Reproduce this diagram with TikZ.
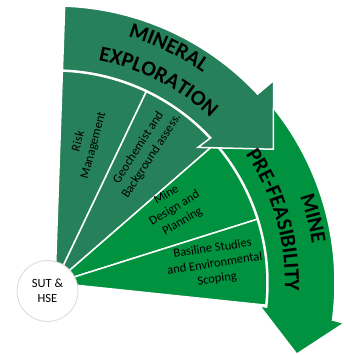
\documentclass[tikz,border=0pt]{standalone}
\usepackage{fontspec}
\setmainfont{Carlito}
\usetikzlibrary{decorations.text}
\definecolor{darkgreen}{RGB}{38,128,90}
\definecolor{brightgreen}{RGB}{0,146,63}
\definecolor{ringgray}{RGB}{217,217,217}
\newcommand{\arcfont}{\fontsize{21.5}{21.5}\selectfont\bfseries}

\begin{document}
\begin{tikzpicture}[x=1pt, y=1pt,
		wedge/.style={draw=white, line width=1.5pt, line join=round},
		band/.style={draw=white, line width=1.5pt, line join=miter},
		seclabel/.style={align=center, inner sep=0pt, font=\fontsize{12.5}{15.5}\selectfont},
		hub/.style={circle, draw=ringgray, line width=0.8pt, fill=white, minimum size=61pt, inner sep=0pt, align=center, font=\fontsize{12.5}{15.5}\selectfont},
		arctext/.style={decorate, decoration={text along path, text={|\arcfont|#1}}},
		]
		
		\useasboundingbox (-55,-72) rectangle (289,283);
		
		\foreach \a/\b/\c in {88/64.5/darkgreen, 64.5/41/darkgreen, 41/17.5/brightgreen, 17.5/-6/brightgreen}
			\draw[wedge, fill=\c] (0,0) -- (\a:212) arc[start angle=\a, end angle=\b, radius=212] -- cycle;
		
		\draw[band, fill=brightgreen] (42:213) arc[start angle=42, end angle=-6.5, radius=213]
			-- (-6.4:206) -- (-16.4:252) -- (-7.9:292) -- (-7.6:280)
			arc[start angle=-7.6, end angle=42, radius=280] -- cycle;
		
		\draw[band, fill=darkgreen] (88:213) arc[start angle=88, end angle=43, radius=213]
			-- (43.5:197) -- (31.5:256) -- (42.8:298) -- (43:277)
			arc[start angle=43, end angle=88, radius=277] -- cycle;
		
		\path[arctext=MINERAL] (73.5:257) arc[start angle=73.5, end angle=20, radius=257];
		\path[arctext=EXPLORATION] (79:227) arc[start angle=79, end angle=20, radius=227];
		\path[arctext=MINE] (19.5:260) arc[start angle=19.5, end angle=-30, radius=260];
		\path[arctext=PRE-FEASIBILITY] (34:230) arc[start angle=34, end angle=-30, radius=230];
		
		\node[seclabel, rotate=75] (risk) at (77.5:143) {Risk\\Management};
		\node[seclabel, rotate=57] (geochem) at (55.5:159) {Geochemist and\\Background assess.};
		\node[seclabel, rotate=31] (design) at (32:141) {Mine\\Design and\\Planning};
		\node[seclabel, rotate=8.5] (baseline) at (6.8:161) {Basiline Studies\\and Environmental\\Scoping};
		
		\node[hub] (sut) at (-7.5,-8) {SUT \&\\HSE};
	\end{tikzpicture}
\end{document}
